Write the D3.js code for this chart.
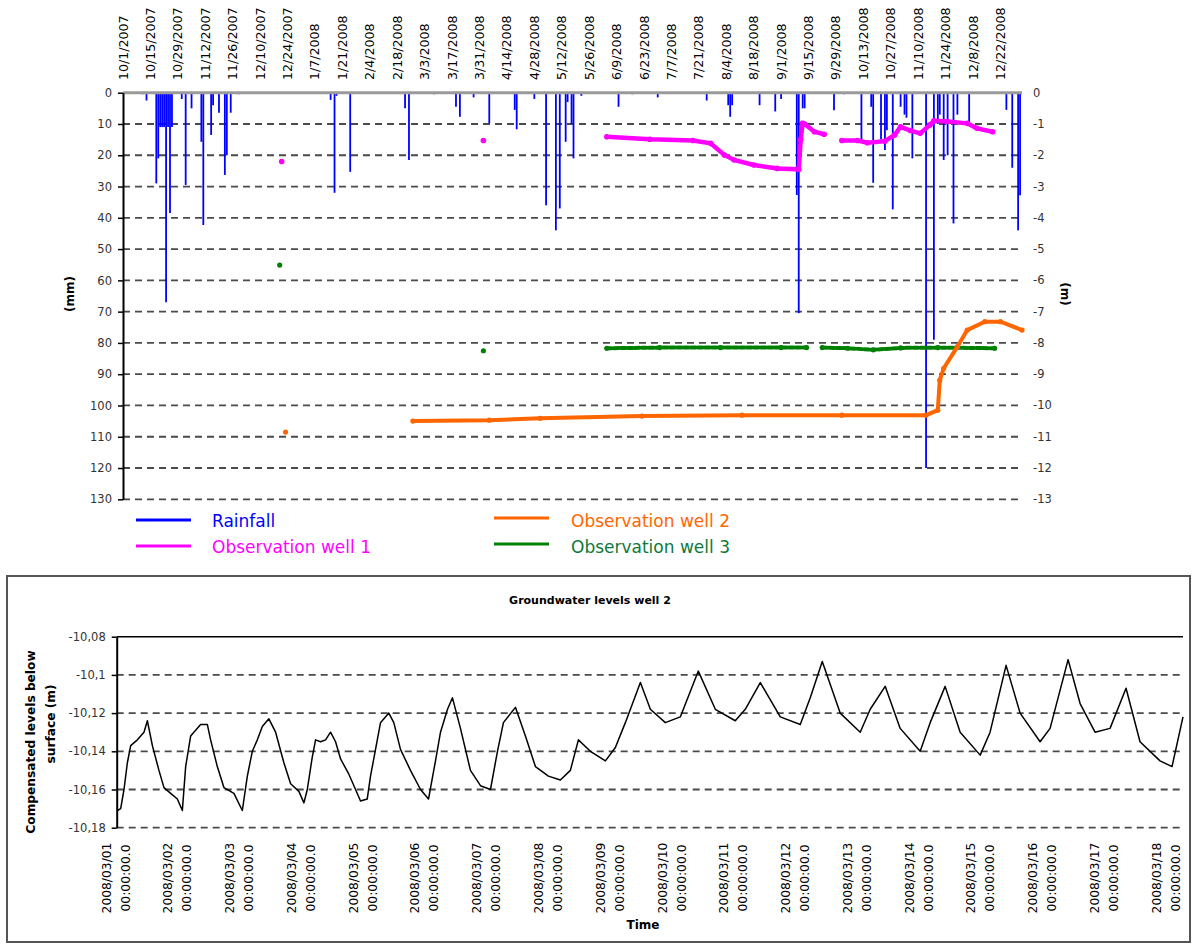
<!DOCTYPE html>
<html><head><meta charset="utf-8">
<script src="https://cdn.jsdelivr.net/npm/d3@7"></script>
<style>
body{margin:0;background:#fff;}
svg{display:block;font-family:"DejaVu Sans",Verdana,sans-serif;}
</style>
</head><body>
<svg id="c" width="1193" height="945"></svg>
<script>
// ---------------- DATA: top chart ----------------
const topTickLabels = ["10/1/2007","10/15/2007","10/29/2007","11/12/2007","11/26/2007","12/10/2007","12/24/2007","1/7/2008","1/21/2008","2/4/2008","2/18/2008","3/3/2008","3/17/2008","3/31/2008","4/14/2008","4/28/2008","5/12/2008","5/26/2008","6/9/2008","6/23/2008","7/7/2008","7/21/2008","8/4/2008","8/18/2008","9/1/2008","9/15/2008","9/29/2008","10/13/2008","10/27/2008","11/10/2008","11/24/2008","12/8/2008","12/22/2008"];
const rainTicks = [0,10,20,30,40,50,60,70,80,90,100,110,120,130];
const levelTicks = [0,-1,-2,-3,-4,-5,-6,-7,-8,-9,-10,-11,-12,-13];

const rainDates = ["2007-10-11","2007-10-13","2007-10-18","2007-10-19","2007-10-20","2007-10-21","2007-10-22","2007-10-23","2007-10-24","2007-10-25","2007-10-26","2007-10-31","2007-11-02","2007-11-05","2007-11-10","2007-11-11","2007-11-15","2007-11-16","2007-11-19","2007-11-22","2007-11-23","2007-11-25","2007-11-29","2008-01-15","2008-01-17","2008-01-18","2008-01-25","2008-02-22","2008-02-24","2008-03-08","2008-03-19","2008-03-21","2008-03-28","2008-04-05","2008-04-18","2008-04-19","2008-04-28","2008-05-04","2008-05-09","2008-05-11","2008-05-14","2008-05-15","2008-05-17","2008-05-18","2008-05-22","2008-06-10","2008-06-17","2008-06-30","2008-07-25","2008-08-05","2008-08-06","2008-08-07","2008-08-21","2008-08-29","2008-09-01","2008-09-09","2008-09-10","2008-09-12","2008-09-13","2008-09-28","2008-10-03","2008-10-12","2008-10-17","2008-10-18","2008-10-22","2008-10-24","2008-10-25","2008-10-28","2008-11-01","2008-11-03","2008-11-04","2008-11-07","2008-11-14","2008-11-18","2008-11-20","2008-11-21","2008-11-23","2008-11-25","2008-11-28","2008-11-30","2008-12-06","2008-12-25","2008-12-28","2008-12-31","2009-01-01"];
const rainValues = [0.5,2.5,29,21,11,11,11,67,11,38.5,11,2,29.5,5,15.7,42.3,13.5,4,6.4,26.3,20,6.4,0.5,2.3,32,1,25.3,5,21.5,0.5,4.5,7.7,1.5,9.8,5.5,11.7,2,36,44,37,15.7,3,10,21,1,4.5,0.5,1.5,2.5,4,7.7,4,4,6,2,32.7,70.5,5,5,5.6,0.5,15,4.5,28.8,15,18.3,12,37.3,4.5,7,8,21,120,79,10,7,21.5,20,41.8,7,9.8,5.5,24,44,32.8];

// Observation well 1 (m) ; null = gap
const well1Dates = ["2007-12-21","2008-01-10","2008-04-02","2008-05-10","2008-06-04","2008-06-26","2008-07-18","2008-07-27","2008-08-03","2008-08-08","2008-08-18","2008-08-30","2008-09-10","2008-09-11","2008-09-12","2008-09-13","2008-09-18","2008-09-23","2008-09-28","2008-10-02","2008-10-10","2008-10-15","2008-10-24","2008-10-29","2008-11-01","2008-11-06","2008-11-11","2008-11-16","2008-11-18","2008-11-25","2008-12-05","2008-12-10","2008-12-18"];
const well1Values = [-2.20,null,-1.53,null,-1.41,-1.49,-1.53,-1.62,-1.99,-2.15,-2.31,-2.42,-2.45,-1.50,-0.98,-1.00,-1.25,-1.33,null,-1.53,-1.53,-1.60,-1.55,-1.35,-1.09,-1.21,-1.30,-1.03,-0.90,-0.92,-0.98,-1.14,-1.25];

// Observation well 2 (m)
const well2Dates = ["2007-12-23","2008-01-20","2008-02-26","2008-04-05","2008-05-01","2008-06-22","2008-08-12","2008-10-02","2008-11-14","2008-11-20","2008-11-21","2008-11-23","2008-11-30","2008-12-05","2008-12-14","2008-12-22","2009-01-02"];
const well2Values = [-10.85,null,-10.50,-10.47,-10.41,-10.34,-10.31,-10.31,-10.31,-10.15,-9.19,-8.81,-8.12,-7.59,-7.32,-7.32,-7.59];

// Observation well 3 (m)
const well3Dates = ["2007-12-20","2008-01-20","2008-04-02","2008-05-10","2008-06-04","2008-07-01","2008-08-01","2008-09-01","2008-09-14","2008-09-18","2008-09-22","2008-10-05","2008-10-18","2008-11-01","2008-11-20","2008-12-19"];
const well3Values = [-5.51,null,-8.25,null,-8.17,-8.15,-8.15,-8.15,-8.15,null,-8.15,-8.17,-8.22,-8.16,-8.15,-8.17];

// ---------------- DATA: bottom chart ----------------
const bottomTickDays = ["2008/03/01","2008/03/02","2008/03/03","2008/03/04","2008/03/05","2008/03/06","2008/03/07","2008/03/08","2008/03/09","2008/03/10","2008/03/11","2008/03/12","2008/03/13","2008/03/14","2008/03/15","2008/03/16","2008/03/17","2008/03/18"];
const bottomYTicks = [-10.08,-10.1,-10.12,-10.14,-10.16,-10.18];
const levelTimes = ["2008-03-01 00:15","2008-03-01 01:33","2008-03-01 02:50","2008-03-01 04:09","2008-03-01 05:26","2008-03-01 08:02","2008-03-01 10:36","2008-03-01 11:55","2008-03-01 13:52","2008-03-01 16:25","2008-03-01 18:22","2008-03-01 20:58","2008-03-01 23:34",
"2008-03-02 01:31","2008-03-02 02:48","2008-03-02 04:44","2008-03-02 06:40","2008-03-02 08:37","2008-03-02 11:14","2008-03-02 12:30","2008-03-02 15:06","2008-03-02 17:40","2008-03-02 21:33",
"2008-03-03 00:49","2008-03-03 02:46","2008-03-03 04:42","2008-03-03 06:39","2008-03-03 08:35","2008-03-03 11:08","2008-03-03 13:45","2008-03-03 16:58","2008-03-03 19:35","2008-03-03 22:48",
"2008-03-04 00:45","2008-03-04 02:04","2008-03-04 04:00","2008-03-04 05:17","2008-03-04 07:13","2008-03-04 09:10","2008-03-04 11:06","2008-03-04 13:03","2008-03-04 15:00","2008-03-04 18:13","2008-03-04 20:49","2008-03-04 22:45",
"2008-03-05 01:21","2008-03-05 02:38","2008-03-05 04:35","2008-03-05 06:31","2008-03-05 09:45","2008-03-05 11:41","2008-03-05 14:17","2008-03-05 18:10","2008-03-05 22:04",
"2008-03-06 01:10","2008-03-06 03:53","2008-03-06 05:50","2008-03-06 08:33","2008-03-06 10:29","2008-03-06 13:35","2008-03-06 17:28","2008-03-06 21:22",
"2008-03-07 01:15","2008-03-07 03:58","2008-03-07 06:17","2008-03-07 10:57","2008-03-07 14:50","2008-03-07 18:43","2008-03-07 23:46",
"2008-03-08 04:25","2008-03-08 08:18","2008-03-08 11:25","2008-03-08 16:05","2008-03-08 21:55",
"2008-03-09 01:47","2008-03-09 05:40","2008-03-09 11:30","2008-03-09 15:23","2008-03-09 21:12",
"2008-03-10 03:01","2008-03-10 10:01","2008-03-10 16:38",
"2008-03-11 00:23","2008-03-11 04:16","2008-03-11 10:06","2008-03-11 17:52",
"2008-03-12 01:38","2008-03-12 05:31","2008-03-12 10:11","2008-03-12 17:09",
"2008-03-13 00:56","2008-03-13 04:49","2008-03-13 10:38","2008-03-13 16:28",
"2008-03-14 00:14","2008-03-14 04:07","2008-03-14 09:56","2008-03-14 15:46","2008-03-14 23:33",
"2008-03-15 03:24","2008-03-15 09:37","2008-03-15 15:04","2008-03-15 22:50",
"2008-03-16 02:43","2008-03-16 09:43","2008-03-16 14:23","2008-03-16 20:11",
"2008-03-17 02:01","2008-03-17 08:14","2008-03-17 13:40","2008-03-17 21:26",
"2008-03-18 02:06","2008-03-18 06:22"];
const levelValues = [-10.171,-10.170,-10.160,-10.146,-10.137,-10.134,-10.130,-10.124,-10.137,-10.150,-10.159,-10.162,-10.165,
-10.171,-10.148,-10.132,-10.129,-10.126,-10.126,-10.134,-10.148,-10.159,-10.162,
-10.171,-10.153,-10.140,-10.134,-10.127,-10.123,-10.130,-10.146,-10.157,-10.161,
-10.167,-10.160,-10.143,-10.134,-10.135,-10.134,-10.130,-10.135,-10.144,-10.152,-10.160,-10.166,
-10.165,-10.153,-10.139,-10.125,-10.120,-10.125,-10.139,-10.150,-10.160,
-10.165,-10.145,-10.130,-10.118,-10.112,-10.128,-10.150,-10.158,
-10.160,-10.140,-10.125,-10.117,-10.132,-10.148,-10.153,
-10.155,-10.150,-10.134,-10.140,-10.145,
-10.138,-10.125,-10.104,-10.118,-10.125,
-10.122,-10.098,-10.118,
-10.124,-10.118,-10.104,-10.122,
-10.126,-10.112,-10.093,-10.120,
-10.130,-10.118,-10.106,-10.128,
-10.140,-10.125,-10.106,-10.130,-10.142,
-10.130,-10.095,-10.120,-10.135,
-10.128,-10.092,-10.115,-10.130,
-10.128,-10.107,-10.135,-10.145,
-10.148,-10.122];

// ---------------- DRAW ----------------
const svg = d3.select("#c");
const pD = d3.timeParse("%Y-%m-%d");
const pL = d3.timeParse("%m/%d/%Y");
const pT = d3.timeParse("%Y-%m-%d %H:%M");

// ===== top chart =====
const X0 = 123, X1 = 1022;
const x = d3.scaleTime().domain([pD("2007-10-01"), pD("2009-01-03")]).range([X0, 1024]);
const yL = d3.scaleLinear().domain([0,130]).range([92.7, 499.3]);
const yR = d3.scaleLinear().domain([0,-13]).range([92.7, 499.3]);

// gridlines
svg.append("g").selectAll("line").data(rainTicks.filter(d=>d>0)).join("line")
  .attr("x1", X0).attr("x2", X1).attr("y1", d=>yL(d)).attr("y2", d=>yL(d))
  .attr("stroke", "#4a4a4a").attr("stroke-width", 1.8).attr("stroke-dasharray", "7,5");

// rainfall bars
const rain = rainDates.map((d,i)=>({t:pD(d), v:rainValues[i]}));
svg.append("g").selectAll("line").data(rain).join("line")
  .attr("x1", d=>x(d.t)).attr("x2", d=>x(d.t)).attr("y1", yL(0)).attr("y2", d=>yL(d.v))
  .attr("stroke", "#0000ff").attr("stroke-width", 1.8);

// top gray zero line
svg.append("line").attr("x1", X0).attr("x2", X1).attr("y1", yL(0)).attr("y2", yL(0))
  .attr("stroke", "#9a9a9a").attr("stroke-width", 3);

// wells
function drawWell(dates, vals, color, opts){
  const data = dates.map((d,i)=>({t:pD(d), v:vals[i]}));
  const line = d3.line().defined(d=>d.v!==null).x(d=>x(d.t)).y(d=>yR(d.v));
  svg.append("path").datum(data).attr("d", line).attr("fill","none")
    .attr("stroke", color).attr("stroke-width", opts.w).attr("stroke-linecap","round")
    .attr("stroke-dasharray", opts.dash || null);
  svg.append("g").selectAll("circle").data(data.filter(d=>d.v!==null)).join("circle")
    .attr("cx", d=>x(d.t)).attr("cy", d=>yR(d.v)).attr("r", opts.r).attr("fill", color);
}
drawWell(well3Dates, well3Values, "#008000", {w:4, r:2.6, dash:"5,2"});
drawWell(well2Dates, well2Values, "#ff6600", {w:4, r:2.6});
drawWell(well1Dates, well1Values, "#ff00ff", {w:4.5, r:2.8});

// left axis
const axL = svg.append("g").attr("transform", `translate(${X0},0)`)
  .call(d3.axisLeft(yL).tickValues(rainTicks).tickSize(5).tickSizeOuter(0).tickPadding(6).tickFormat(d=>String(d)));
axL.select(".domain").attr("stroke", "#000").attr("stroke-width", 2);
axL.selectAll(".tick line").attr("stroke", "#000").attr("stroke-width", 1.5);
axL.selectAll("text").attr("font-size", 11.5).attr("fill", "#333").attr("font-family", "DejaVu Sans");

// right axis labels
svg.append("g").selectAll("text").data(levelTicks).join("text")
  .attr("x", 1033).attr("y", d=>yR(d)).attr("dy", "0.35em")
  .attr("font-size", 11.5).attr("fill", "#333").text(d=>String(d));

// axis titles
svg.append("text").attr("transform", "translate(74,294) rotate(-90)").attr("text-anchor","middle")
  .attr("font-size", 12).attr("font-weight","bold").text("(mm)");
svg.append("text").attr("transform", "translate(1061,294) rotate(90)").attr("text-anchor","middle")
  .attr("font-size", 12).attr("font-weight","bold").text("(m)");

// top date labels
svg.append("g").selectAll("text").data(topTickLabels).join("text")
  .attr("transform", d=>`translate(${x(pL(d))+4.5},80) rotate(-90)`)
  .attr("text-anchor","start").attr("font-size", 12.6).attr("fill","#000").text(d=>d);

// legend
const legend = [
  {label:"Rainfall", color:"#0000ff", text:"#0000ff", lx:136, ly:520, tx:212, ty:527},
  {label:"Observation well 1", color:"#ff00ff", text:"#ff00ff", lx:136, ly:546, tx:212, ty:553},
  {label:"Observation well 2", color:"#ff6600", text:"#ff6600", lx:494, ly:518, tx:571, ty:527},
  {label:"Observation well 3", color:"#008000", text:"#0d7a3a", lx:494, ly:544, tx:571, ty:553}
];
const lg = svg.append("g");
lg.selectAll("line").data(legend).join("line")
  .attr("x1", d=>d.lx).attr("x2", d=>d.lx+55).attr("y1", d=>d.ly).attr("y2", d=>d.ly)
  .attr("stroke", d=>d.color).attr("stroke-width", 3);
lg.selectAll("text").data(legend).join("text")
  .attr("x", d=>d.tx).attr("y", d=>d.ty).attr("fill", d=>d.text).attr("font-size", 17).text(d=>d.label);

// ===== bottom chart =====
svg.append("rect").attr("x", 7).attr("y", 576).attr("width", 1183).attr("height", 366)
  .attr("fill","none").attr("stroke","#555").attr("stroke-width", 2);

const BX0 = 116.7, BX1 = 1183;
const xb = d3.scaleTime().domain([pT("2008-03-01 00:00"), pT("2008-03-18 06:22")]).range([BX0, BX1]);
const yb = d3.scaleLinear().domain([-10.18,-10.08]).range([827.7, 636.7]);

svg.append("text").attr("x", 590).attr("y", 604).attr("text-anchor","middle")
  .attr("font-size", 11).attr("font-weight","bold").text("Groundwater levels well 2");

// gridlines
svg.append("g").selectAll("line").data(bottomYTicks.filter(d=>d<-10.09)).join("line")
  .attr("x1", BX0).attr("x2", BX1).attr("y1", d=>yb(d)).attr("y2", d=>yb(d))
  .attr("stroke", "#4a4a4a").attr("stroke-width", 1.8).attr("stroke-dasharray", "7,5");
svg.append("line").attr("x1", BX0).attr("x2", BX1).attr("y1", yb(-10.08)).attr("y2", yb(-10.08))
  .attr("stroke", "#000").attr("stroke-width", 1.5);

const lvl = levelTimes.map((t,i)=>({t:pT(t), v:levelValues[i]}));
svg.append("path").datum(lvl).attr("fill","none").attr("stroke","#000").attr("stroke-width",1.5)
  .attr("stroke-linejoin","round").attr("d", d3.line().x(d=>xb(d.t)).y(d=>yb(d.v)));

const axB = svg.append("g").attr("transform", `translate(${BX0},0)`)
  .call(d3.axisLeft(yb).tickValues(bottomYTicks).tickSize(5).tickSizeOuter(0).tickPadding(6)
    .tickFormat(d=>String(d).replace(".", ",")));
axB.select(".domain").attr("stroke","#000").attr("stroke-width",2);
axB.selectAll(".tick line").attr("stroke","#000").attr("stroke-width",1.5);
axB.selectAll("text").attr("font-size", 11.5).attr("fill","#333").attr("font-family","DejaVu Sans");

// bottom y title
svg.append("text").attr("transform","translate(35,742) rotate(-90)").attr("font-size",12.2).attr("font-weight","bold")
  .attr("text-anchor","middle").text("Compensated levels below");
svg.append("text").attr("transform","translate(55,724) rotate(-90)").attr("font-size",12.2).attr("font-weight","bold")
  .attr("text-anchor","middle").text("surface (m)");

// bottom x labels
const bl = svg.append("g").selectAll("g").data(bottomTickDays).join("g")
  .attr("transform", d=>`translate(${xb(d3.timeParse("%Y/%m/%d")(d))},878) rotate(-90)`);
bl.append("text").attr("x",0).attr("y",-6).attr("text-anchor","middle").attr("font-size",12.3).text(d=>d);
bl.append("text").attr("x",0).attr("y",13).attr("text-anchor","middle").attr("font-size",12.3).text("00:00:00.0");

svg.append("text").attr("x", 643).attr("y", 929).attr("text-anchor","middle")
  .attr("font-size", 12).attr("font-weight","bold").text("Time");
</script>
</body></html>
